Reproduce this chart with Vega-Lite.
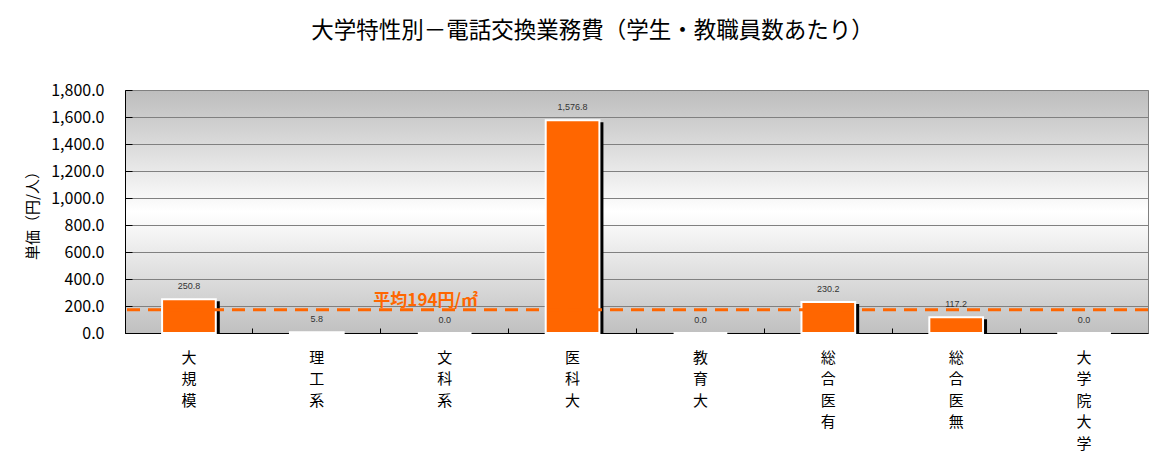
{
  "$schema": "https://vega.github.io/schema/vega-lite/v6.json",
  "width": 1023,
  "height": 243,
  "autosize": {"type": "none"},
  "padding": {"left": 125, "top": 90, "right": 9, "bottom": 141},
  "background": "white",
  "title": {
    "text": "大学特性別－電話交換業務費（学生・教職員数あたり）",
    "font": "Noto Sans CJK JP",
    "fontSize": 22.5,
    "fontWeight": "normal",
    "color": "#000000",
    "anchor": "middle",
    "dx": -44,
    "offset": 40
  },
  "datasets": {
    "main": [
      {"cat": "大規模", "value": 250.8},
      {"cat": "理工系", "value": 5.8},
      {"cat": "文科系", "value": 0.0},
      {"cat": "医科大", "value": 1576.8},
      {"cat": "教育大", "value": 0.0},
      {"cat": "総合医有", "value": 230.2},
      {"cat": "総合医無", "value": 117.2},
      {"cat": "大学院大学", "value": 0.0}
    ],
    "avg": [
      {"cat": "文科系", "avg": 172, "label": "平均194円/㎡"}
    ]
  },
  "config": {
    "view": {
      "stroke": "#808080",
      "strokeWidth": 1,
      "fill": {
        "gradient": "linear",
        "x1": 0, "y1": 0, "x2": 0, "y2": 1,
        "stops": [
          {"offset": 0, "color": "#bdbdbd"},
          {"offset": 0.5, "color": "#ffffff"},
          {"offset": 1, "color": "#c0c0c0"}
        ]
      }
    },
    "axis": {"labelFont": "Noto Sans CJK JP", "titleFont": "Noto Sans CJK JP", "labelColor": "#000000", "titleColor": "#000000"},
    "axisY": {
      "tickCount": 10,
      "labelOverlap": false,
      "labelFontSize": 16,
      "labelPadding": 28,
      "tickSize": -7,
      "tickColor": "#000000",
      "domainColor": "#000000",
      "grid": true,
      "gridColor": "#808080",
      "gridWidth": 1,
      "titleFontSize": 15,
      "titleFontWeight": "normal",
      "titlePadding": 10
    }
  },
  "layer": [
    {
      "data": {"name": "main"},
      "mark": {"type": "bar", "color": "#000000", "xOffset": 4, "yOffset": 2, "clip": true, "width": {"band": 0.42}},
      "encoding": {
        "x": {
          "field": "cat", "type": "nominal", "sort": null,
          "scale": {"paddingInner": 0, "paddingOuter": 0},
          "axis": {
            "title": null,
            "labelAngle": 0,
            "labelExpr": "split(datum.label, '')",
            "labelFontSize": 15,
            "labelLineHeight": 21.5,
            "labelBaseline": "top",
            "labelPadding": 22,
            "bandPosition": 0,
            "tickSize": -5,
            "tickColor": "#000000",
            "domainColor": "#000000",
            "grid": false
          }
        },
        "y": {
          "field": "value", "type": "quantitative",
          "scale": {"domain": [0, 1800], "nice": false},
          "axis": {
            "title": "単価（円/人）",
            "values": [0, 200, 400, 600, 800, 1000, 1200, 1400, 1600, 1800],
            "format": ",.1f"
          }
        }
      }
    },
    {
      "data": {"name": "main"},
      "mark": {"type": "bar", "color": "#ff6600", "stroke": "#ffffff", "strokeWidth": 2, "width": {"band": 0.42}},
      "encoding": {
        "x": {"field": "cat", "type": "nominal", "sort": null},
        "y": {"field": "value", "type": "quantitative", "axis": {"format": ",.1f", "values": [0, 200, 400, 600, 800, 1000, 1200, 1400, 1600, 1800]}}
      }
    },
    {
      "data": {"name": "main"},
      "mark": {"type": "text", "font": "Liberation Sans", "fontSize": 9, "color": "#333333", "baseline": "middle", "dy": -13},
      "encoding": {
        "x": {"field": "cat", "type": "nominal", "sort": null},
        "y": {"field": "value", "type": "quantitative", "axis": {"format": ",.1f", "values": [0, 200, 400, 600, 800, 1000, 1200, 1400, 1600, 1800]}},
        "text": {"field": "value", "type": "quantitative", "format": ",.1f"}
      }
    },
    {
      "data": {"name": "avg"},
      "mark": {"type": "rule", "color": "#ff6600", "strokeWidth": 3, "strokeDash": [13, 8]},
      "encoding": {
        "y": {"field": "avg", "type": "quantitative", "axis": {"title": "単価（円/人）", "format": ",.1f", "values": [0, 200, 400, 600, 800, 1000, 1200, 1400, 1600, 1800]}}
      }
    },
    {
      "data": {"name": "avg"},
      "mark": {"type": "text", "font": "Noto Sans CJK JP", "fontSize": 17, "fontWeight": "bold", "color": "#ff6600", "baseline": "middle", "dx": -19, "dy": -9},
      "encoding": {
        "x": {"field": "cat", "type": "nominal", "sort": null},
        "y": {"field": "avg", "type": "quantitative", "axis": {"title": "単価（円/人）", "format": ",.1f", "values": [0, 200, 400, 600, 800, 1000, 1200, 1400, 1600, 1800]}},
        "text": {"field": "label", "type": "nominal"}
      }
    }
  ]
}
